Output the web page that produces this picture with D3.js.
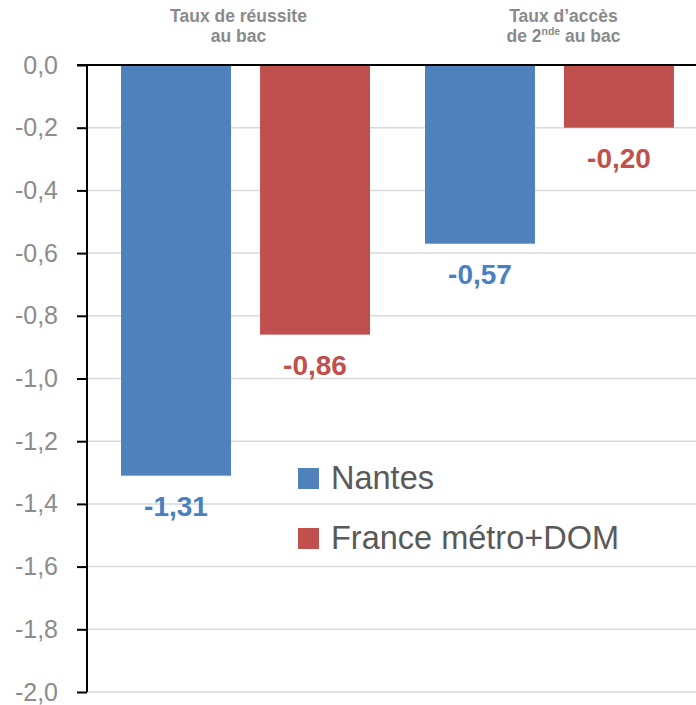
<!DOCTYPE html>
<html><head><meta charset="utf-8">
<script src="https://cdn.jsdelivr.net/npm/d3@7"></script>
<style>body{margin:0;background:#fff}</style>
</head><body>
<svg id="c" width="696" height="705"></svg>
<script>
const categories = ["reussite", "acces"];
const series = ["Nantes", "France métro+DOM"];
const nantesValues = [-1.31, -0.57];
const franceValues = [-0.86, -0.20];
const yTicks = [0, -0.2, -0.4, -0.6, -0.8, -1.0, -1.2, -1.4, -1.6, -1.8, -2.0];
const colors = ["#4f81bd", "#c0504d"];
const labelColors = ["#4a7fc1", "#c0504d"];

const svg = d3.select("#c");
const W = 696, H = 705;
const m = {left: 87, top: 65, bottom: 692};
const locale = d3.formatLocale({decimal: ",", thousands: " ", grouping: [3], currency: ["", "€"], minus: "-"});
const f1 = locale.format(".1f"), f2 = locale.format(".2f");

const y = d3.scaleLinear().domain([0, -2]).range([m.top, m.bottom]);
const x0 = d3.scaleBand().domain(categories).range([87, 708]).paddingInner(0.181).paddingOuter(0.112);
const x1 = d3.scaleBand().domain(series).range([0, x0.bandwidth()]).paddingInner(0.209).paddingOuter(0);

// gridlines
svg.append("g").selectAll("line").data(yTicks.filter(d => d !== 0)).join("line")
  .attr("x1", m.left).attr("x2", W).attr("y1", d => y(d)).attr("y2", d => y(d))
  .attr("stroke", "#d9d9d9").attr("stroke-width", 1.5);

// bars
const data = categories.map((c, i) => ({cat: c, vals: [nantesValues[i], franceValues[i]]}));
const g = svg.append("g").selectAll("g").data(data).join("g")
  .attr("transform", d => `translate(${x0(d.cat)},0)`);
g.selectAll("rect").data(d => d.vals.map((v, j) => ({s: series[j], v, j}))).join("rect")
  .attr("x", d => x1(d.s)).attr("width", x1.bandwidth())
  .attr("y", y(0)).attr("height", d => y(d.v) - y(0))
  .attr("fill", d => colors[d.j]);
g.selectAll("text.val").data(d => d.vals.map((v, j) => ({s: series[j], v, j}))).join("text")
  .attr("class", "val")
  .attr("x", d => x1(d.s) + x1.bandwidth() / 2).attr("y", d => y(d.v) + 40)
  .attr("text-anchor", "middle")
  .attr("font-family", "Liberation Sans, Arial, sans-serif").attr("font-weight", "bold").attr("font-size", 28)
  .attr("fill", d => labelColors[d.j])
  .text(d => f2(d.v));

// y axis
const yAxis = d3.axisLeft(y).tickValues(yTicks).tickFormat(f1).tickSize(10).tickPadding(19);
const ya = svg.append("g").attr("transform", `translate(${m.left},0)`).call(yAxis);
ya.select(".domain").attr("stroke", "#000").attr("stroke-width", 2).attr("d", `M0,${m.top}V${m.bottom}`);
ya.selectAll(".tick line").attr("stroke", "#000").attr("stroke-width", 2);
ya.selectAll(".tick text").attr("font-family", "Liberation Sans, Arial, sans-serif").attr("font-size", 25).attr("fill", "#8c8c8c");

// zero line
svg.append("line").attr("x1", 77).attr("x2", W).attr("y1", y(0)).attr("y2", y(0))
  .attr("stroke", "#000").attr("stroke-width", 2);

// category titles
const titleDx = [-7, 14];
const tf = "Liberation Sans, Arial, sans-serif";
const t1 = svg.append("text").attr("text-anchor", "middle").attr("font-family", tf).attr("font-weight", "bold")
  .attr("font-size", 17.5).attr("fill", "#8a8a8a");
const cx0 = x0(categories[0]) + x0.bandwidth() / 2 + titleDx[0];
t1.append("tspan").attr("x", cx0).attr("y", 22).text("Taux de réussite");
t1.append("tspan").attr("x", cx0).attr("y", 42).text("au bac");
const cx1 = x0(categories[1]) + x0.bandwidth() / 2 + titleDx[1];
const t2 = svg.append("text").attr("text-anchor", "middle").attr("font-family", tf).attr("font-weight", "bold")
  .attr("font-size", 17.5).attr("fill", "#8a8a8a");
t2.append("tspan").attr("x", cx1).attr("y", 22).text("Taux d’accès");
const l2 = t2.append("tspan").attr("x", cx1).attr("y", 42);
l2.append("tspan").text("de 2");
l2.append("tspan").attr("font-size", 10.5).attr("dy", -7).text("nde");
l2.append("tspan").attr("dy", 7).text(" au bac");

// legend
const lg = svg.append("g").attr("transform", "translate(298,468)");
series.forEach((s, i) => {
  lg.append("rect").attr("x", 0).attr("y", i * 60).attr("width", 21).attr("height", 21).attr("fill", colors[i]);
  lg.append("text").attr("x", 33).attr("y", i * 60 + 21)
    .attr("font-family", tf).attr("font-size", 32.5).attr("fill", "#595959").text(s);
});
</script>
</body></html>
